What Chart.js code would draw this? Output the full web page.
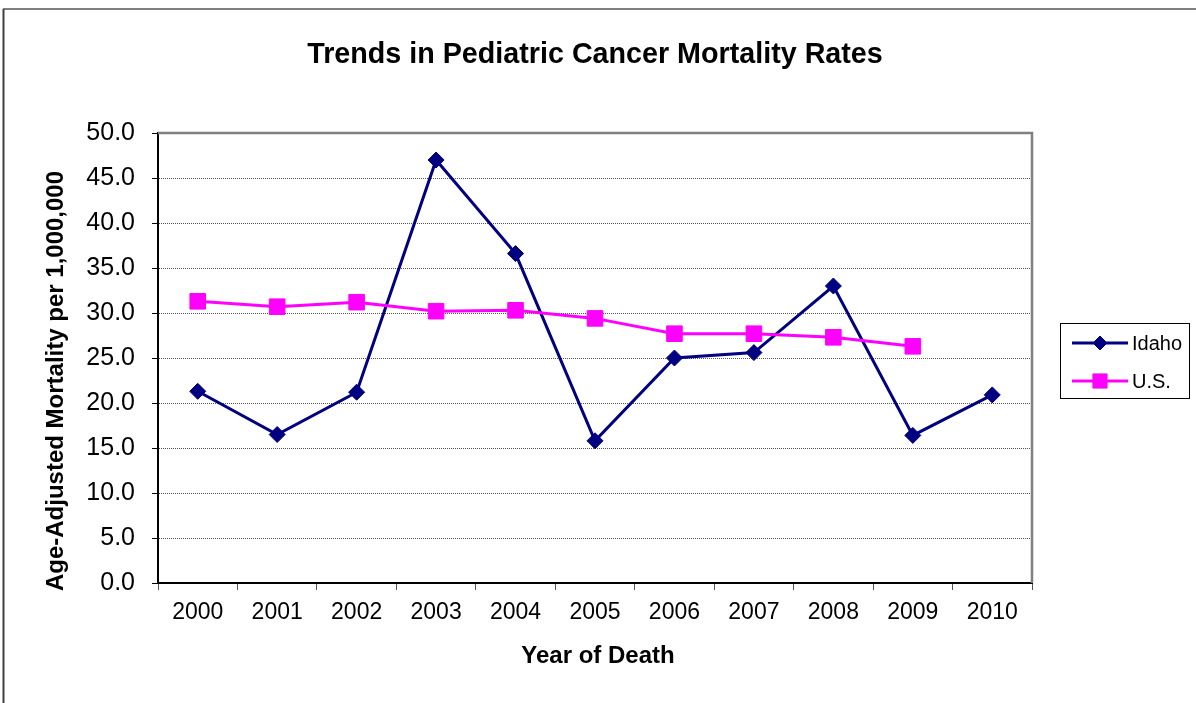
<!DOCTYPE html>
<html>
<head>
<meta charset="utf-8">
<script src="https://cdn.jsdelivr.net/npm/chart.js@4/dist/chart.umd.min.js"></script>
<style>
  html, body { margin: 0; padding: 0; background: #fff; }
  #wrap { width: 1196px; height: 703px; position: relative; }
</style>
</head>
<body>
<div id="wrap"><canvas id="c" width="1196" height="703"></canvas></div>
<script>
const chartTitle = 'Trends in Pediatric Cancer Mortality Rates';
const xTitle = 'Year of Death';
const yTitle = 'Age-Adjusted Mortality per 1,000,000';
const years = ['2000','2001','2002','2003','2004','2005','2006','2007','2008','2009','2010'];
const idaho = [21.3, 16.5, 21.2, 47.0, 36.6, 15.8, 25.0, 25.6, 33.0, 16.4, 20.9];
const us = [31.3, 30.7, 31.2, 30.2, 30.3, 29.4, 27.7, 27.7, 27.3, 26.3, null];
const seriesNames = ['Idaho', 'U.S.'];
const yMin = 0, yMax = 50, yStep = 5;

const FONT = 'Arial, "Liberation Sans", sans-serif';

const decor = {
  id: 'decor',
  beforeDraw(chart) {
    const ctx = chart.ctx;
    ctx.save();
    ctx.fillStyle = '#fff';
    ctx.fillRect(0, 0, chart.width, chart.height);
    ctx.strokeStyle = '#7f7f7f';
    ctx.lineWidth = 2;
    ctx.beginPath(); ctx.moveTo(3, 9); ctx.lineTo(1200, 9); ctx.stroke();
    ctx.strokeStyle = '#404040';
    ctx.beginPath(); ctx.moveTo(3.5, 9); ctx.lineTo(3.5, 710); ctx.stroke();
    ctx.restore();
  },
  beforeDatasetsDraw(chart) {
    const ctx = chart.ctx, a = chart.chartArea;
    ctx.save();
    ctx.strokeStyle = '#808080';
    ctx.lineWidth = 2.5;
    ctx.beginPath();
    ctx.moveTo(a.left, a.top); ctx.lineTo(a.right, a.top); ctx.lineTo(a.right, a.bottom);
    ctx.stroke();
    ctx.restore();
  },
  afterDraw(chart) {
    const ctx = chart.ctx;
    ctx.save();
    ctx.fillStyle = '#000';
    ctx.textAlign = 'center';
    ctx.textBaseline = 'middle';
    ctx.font = 'bold 28.7px ' + FONT;
    ctx.fillText(chartTitle, 595, 55);
    ctx.font = 'bold 24px ' + FONT;
    ctx.fillText(xTitle, 598, 656);
    ctx.save();
    ctx.translate(56, 381);
    ctx.rotate(-Math.PI / 2);
    ctx.fillText(yTitle, 0, 0);
    ctx.restore();

    // legend
    const bx = 1060, by = 323, bw = 129, bh = 75;
    ctx.fillStyle = '#fff';
    ctx.fillRect(bx, by, bw, bh);
    ctx.strokeStyle = '#000';
    ctx.lineWidth = 1;
    ctx.strokeRect(bx + 0.5, by + 0.5, bw, bh);
    const rows = [343, 381];
    chart.data.datasets.forEach((ds, i) => {
      const y = rows[i];
      ctx.strokeStyle = ds.borderColor;
      ctx.lineWidth = 3;
      ctx.beginPath(); ctx.moveTo(1072, y); ctx.lineTo(1128, y); ctx.stroke();
      ctx.fillStyle = ds.pointBackgroundColor;
      ctx.strokeStyle = ds.pointBorderColor;
      ctx.lineWidth = 1;
      Chart.helpers.drawPoint(ctx, {
        pointStyle: ds.pointStyle,
        radius: i === 0 ? 7 : 10,
        rotation: 0,
        borderWidth: 1
      }, 1100, y);
      ctx.fillStyle = '#000';
      ctx.font = '20px ' + FONT;
      ctx.textAlign = 'left';
      ctx.textBaseline = 'middle';
      ctx.fillText(ds.label, 1132, y + 1);
    });
    ctx.restore();
  }
};

new Chart(document.getElementById('c'), {
  type: 'line',
  data: {
    labels: years,
    datasets: [
      {
        label: seriesNames[0],
        data: idaho,
        borderColor: '#000080',
        backgroundColor: '#000080',
        pointBackgroundColor: '#000080',
        pointBorderColor: '#000080',
        borderWidth: 3,
        pointStyle: 'rectRot',
        pointRadius: 8,
        pointBorderWidth: 1,
        tension: 0,
        order: 2
      },
      {
        label: seriesNames[1],
        data: us,
        borderColor: '#ff00ff',
        backgroundColor: '#ff00ff',
        pointBackgroundColor: '#ff00ff',
        pointBorderColor: '#ff00ff',
        borderWidth: 3,
        pointStyle: 'rect',
        pointRadius: 11,
        pointBorderWidth: 1,
        tension: 0,
        spanGaps: false,
        order: 1
      }
    ]
  },
  options: {
    responsive: false,
    animation: false,
    devicePixelRatio: 1,
    layout: { padding: { left: 40, right: 164, top: 133, bottom: 60 } },
    plugins: {
      legend: { display: false },
      title: { display: false },
      tooltip: { enabled: false }
    },
    scales: {
      x: {
        type: 'category',
        offset: true,
        afterFit(s) { s.height = 60; },
        grid: {
          offset: true,
          drawOnChartArea: false,
          drawTicks: true,
          tickLength: 7,
          color: '#000',
          tickColor: '#555'
        },
        border: { display: true, color: '#000', width: 2 },
        ticks: {
          color: '#000',
          font: { family: FONT, size: 23 },
          padding: 9,
          maxRotation: 0,
          autoSkip: false
        }
      },
      y: {
        min: yMin,
        max: yMax,
        afterFit(s) { s.width = 118; },
        grid: {
          color: (c) => (c.tick && (c.tick.value === yMin || c.tick.value === yMax)) ? 'rgba(0,0,0,0)' : '#555',
          tickColor: '#000',
          tickLength: 6,
          tickBorderDash: [],
          lineWidth: 1
        },
        border: { display: true, color: '#000', width: 2, dash: [1, 1] },
        ticks: {
          stepSize: yStep,
          color: '#000',
          font: { family: FONT, size: 25 },
          padding: 17,
          callback: (v) => Number(v).toFixed(1)
        }
      }
    }
  },
  plugins: [decor]
});
</script>
</body>
</html>
